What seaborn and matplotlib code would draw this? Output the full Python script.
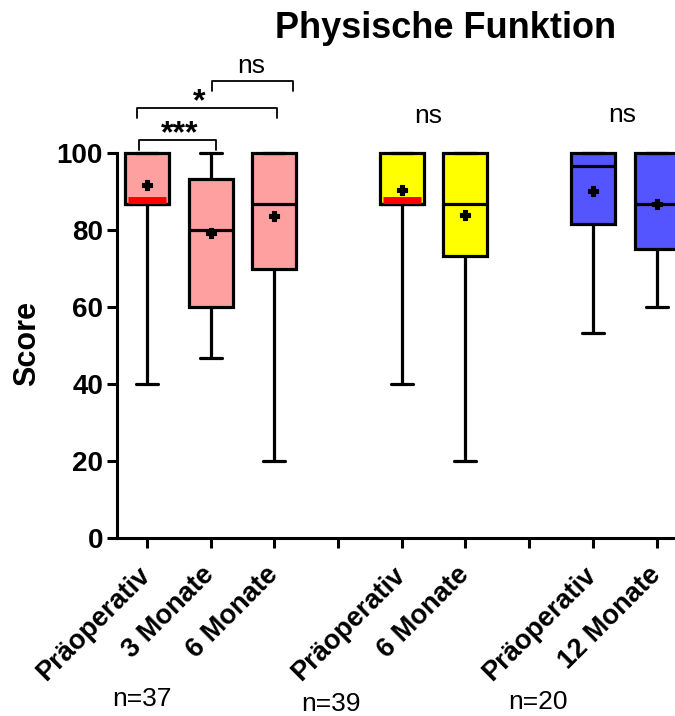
import matplotlib
matplotlib.use('Agg')
import matplotlib.pyplot as plt
import seaborn as sns
import pandas as pd

# Box positions on the x axis (gaps at 3 and 6)
positionen = [0, 1, 2, 4, 5, 7, 8]
farbe = ['rosa', 'rosa', 'rosa', 'gelb', 'gelb', 'blau', 'blau']
tick_labels = ['Präoperativ', '3 Monate', '6 Monate', '',
               'Präoperativ', '6 Monate', '',
               'Präoperativ', '12 Monate']

# five-number summaries
minimum = [40.0, 46.7, 20.0, 40.0, 20.0, 53.3, 60.0]
q1 = [86.7, 60.0, 70.0, 86.7, 73.3, 81.7, 75.0]
median = [86.7, 80.0, 86.7, 86.7, 86.7, 96.7, 86.7]
q3 = [100.0, 93.3, 100.0, 100.0, 100.0, 100.0, 100.0]
maximum = [100.0, 100.0, 100.0, 100.0, 100.0, 100.0, 100.0]
mittelwert = [91.6, 79.3, 83.6, 90.3, 83.9, 90.2, 86.7]
median_rot = [True, False, False, True, False, False, False]

# significance brackets: (x start, x end, height, label, label x)
klammern = [(-0.12, 1.08, 103.4, '***', 0.52),
            (-0.16, 2.04, 111.7, '*', 0.82),
            (1.02, 2.29, 118.7, 'ns', 1.63)]
ns_gruppen = [(4.41, 107.8, 'ns'), (7.46, 108.0, 'ns')]
n_labels = ['n=37', 'n=39', 'n=20']

palette = {'rosa': '#FFA0A0', 'gelb': '#FFFF00', 'blau': '#5555FF'}

sns.set_style('ticks')
plt.rcParams['font.family'] = ['Liberation Sans', 'DejaVu Sans']
for key in ('text.color', 'axes.labelcolor', 'xtick.color', 'ytick.color',
            'axes.edgecolor'):
    plt.rcParams[key] = 'black'

# long form table: 5 values per box give exactly the quartiles above
rows = []
for i, p in enumerate(positionen):
    for v in (minimum[i], q1[i], median[i], q3[i], maximum[i]):
        rows.append({'pos': p, 'wert': v, 'farbe': farbe[i]})
df = pd.DataFrame(rows)

fig = plt.figure(figsize=(6.75, 7.16), dpi=100)
ax = fig.add_axes([0.1733, 0.2486, 0.8267, 0.672])

sns.boxplot(data=df, x='pos', y='wert', hue='farbe', palette=palette,
            native_scale=True, dodge=False, width=0.69, whis=(0, 100),
            saturation=1, linecolor='black', linewidth=2.3, legend=False,
            showfliers=False, ax=ax)

# red median bar sitting on the box bottom
for i, p in enumerate(positionen):
    if median_rot[i]:
        ax.hlines(median[i] + 1.0, p - 0.3, p + 0.3, color='#FF0000',
                  lw=5, zorder=3)

sns.scatterplot(x=positionen, y=mittelwert, marker='P', s=55, color='black',
                edgecolor='black', linewidth=0.8, zorder=6, legend=False, ax=ax)

# brackets
for x0, x1, y, txt, tx in klammern:
    ax.plot([x0, x0, x1, x1], [y - 2.5, y, y, y - 2.5], color='black',
            lw=1.3, clip_on=False)
    if '*' in txt:
        ax.text(tx, y - 0.6, txt, ha='center', va='baseline', fontsize=23,
                fontweight='bold', clip_on=False)
    else:
        ax.text(tx, y + 2.0, txt, ha='center', va='baseline', fontsize=19,
                clip_on=False)
for x, y, txt in ns_gruppen:
    ax.text(x, y, txt, ha='center', va='baseline', fontsize=19)

ax.set_xlim(-0.47, 8.29)
ax.set_ylim(0, 125)
ax.set_xticks(range(9))
ax.set_xticklabels(tick_labels, rotation=45, ha='right', va='center',
                   rotation_mode='anchor', fontsize=19.5, fontweight='bold')
ax.set_yticks([0, 20, 40, 60, 80, 100])
ax.set_yticklabels(['0', '20', '40', '60', '80', '100'], fontsize=20,
                   fontweight='bold')
ax.tick_params(axis='both', length=7, width=2.2, direction='out')
ax.tick_params(axis='y', pad=3)
ax.tick_params(axis='x', pad=17)
ax.set_xlabel('')
ax.set_ylabel('')

sns.despine(ax=ax)
ax.spines['left'].set_bounds(0, 100)
for s in ('left', 'bottom'):
    ax.spines[s].set_linewidth(2.2)

fig.text(446 / 675, 1 - 29 / 716, 'Physische Funktion', ha='center',
         va='center', fontsize=26, fontweight='bold')
fig.text(27 / 675, 1 - 343 / 716, 'Score', rotation=90, ha='center',
         va='center', fontsize=22, fontweight='bold')
for x, y, txt in zip([142, 331, 538], [699, 704, 702], n_labels):
    fig.text(x / 675, 1 - y / 716, txt, ha='center', va='center', fontsize=19)

fig.savefig('out.png', dpi=100)
